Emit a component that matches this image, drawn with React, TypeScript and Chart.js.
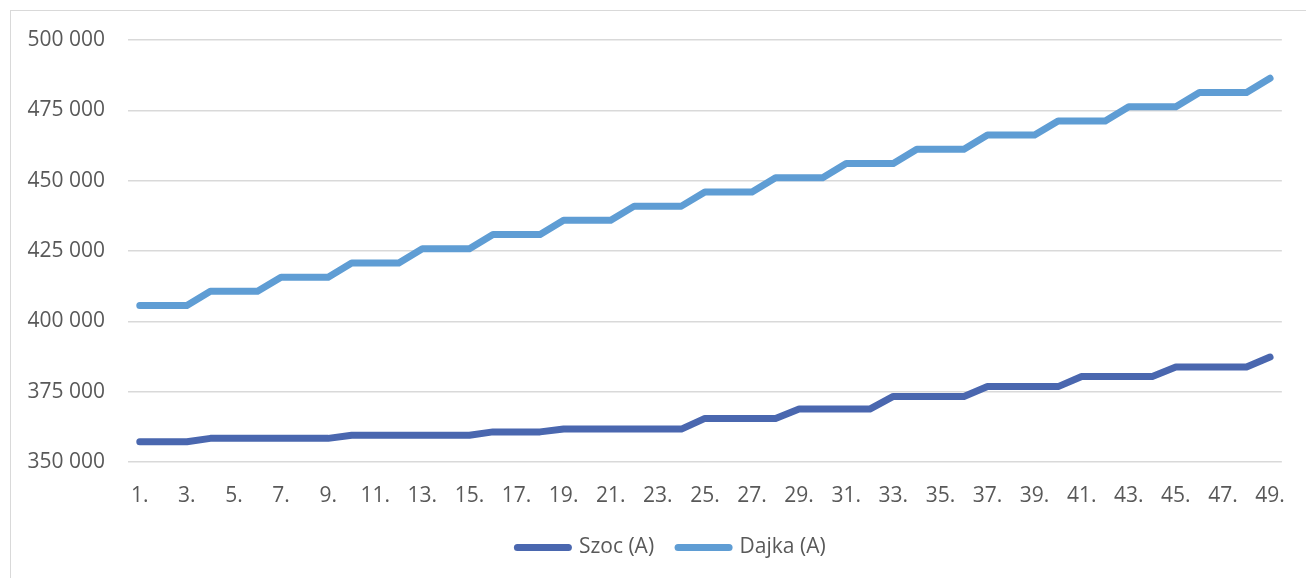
import React, { useEffect, useRef } from "react";
import { Chart, registerables } from "chart.js";

Chart.register(...registerables);

const categories: string[] = [
  "1.", "2.", "3.", "4.", "5.", "6.", "7.", "8.", "9.", "10.",
  "11.", "12.", "13.", "14.", "15.", "16.", "17.", "18.", "19.", "20.",
  "21.", "22.", "23.", "24.", "25.", "26.", "27.", "28.", "29.", "30.",
  "31.", "32.", "33.", "34.", "35.", "36.", "37.", "38.", "39.", "40.",
  "41.", "42.", "43.", "44.", "45.", "46.", "47.", "48.", "49.",
];

const szocValues: number[] = [
  357200, 357200, 357200,
  358400, 358400, 358400, 358400, 358400, 358400,
  359500, 359500, 359500, 359500, 359500, 359500,
  360700, 360700, 360700,
  361700, 361700, 361700, 361700, 361700, 361700,
  365500, 365500, 365500, 365500,
  368800, 368800, 368800, 368800,
  373300, 373300, 373300, 373300,
  376800, 376800, 376800, 376800,
  380400, 380400, 380400, 380400,
  383800, 383800, 383800, 383800,
  387300,
];

const dajkaValues: number[] = [
  405600, 405600, 405600,
  410650, 410650, 410650,
  415700, 415700, 415700,
  420750, 420750, 420750,
  425800, 425800, 425800,
  430850, 430850, 430850,
  435900, 435900, 435900,
  440950, 440950, 440950,
  446000, 446000, 446000,
  451050, 451050, 451050,
  456100, 456100, 456100,
  461150, 461150, 461150,
  466200, 466200, 466200,
  471250, 471250, 471250,
  476300, 476300, 476300,
  481350, 481350, 481350,
  486400,
];

const seriesNames: string[] = ["Szoc (A)", "Dajka (A)"];
const seriesColors: string[] = ["#4A67AF", "#5F9DD4"];

const yMin = 350000;
const yMax = 500000;
const yStep = 25000;

const FONT = "'Open Sans', 'DejaVu Sans', sans-serif";
const FONT_SIZE = 21;
const TEXT_COLOR = "#595959";
const GRID_COLOR = "#d9d9d9";

function formatThousands(v: number): string {
  return String(Math.round(v)).replace(/\B(?=(\d{3})+(?!\d))/g, " ");
}

const legendShift = {
  id: "legendShift",
  afterLayout(chart: any) {
    const lg = chart.legend;
    if (lg) {
      lg.left += 27;
      lg.right += 27;
    }
  },
};

export default function App() {
  const canvasRef = useRef<HTMLCanvasElement | null>(null);

  useEffect(() => {
    const canvas = canvasRef.current;
    if (!canvas) return;
    const chart = new Chart(canvas, {
      type: "line",
      data: {
        labels: categories,
        datasets: [
          {
            label: seriesNames[0],
            data: szocValues,
            borderColor: seriesColors[0],
            backgroundColor: seriesColors[0],
            borderWidth: 7,
            borderCapStyle: "round",
            borderJoinStyle: "round",
            pointRadius: 0,
            tension: 0,
            fill: false,
          },
          {
            label: seriesNames[1],
            data: dajkaValues,
            borderColor: seriesColors[1],
            backgroundColor: seriesColors[1],
            borderWidth: 7,
            borderCapStyle: "round",
            borderJoinStyle: "round",
            pointRadius: 0,
            tension: 0,
            fill: false,
          },
        ],
      },
      plugins: [legendShift],
      options: {
        responsive: false,
        animation: false,
        devicePixelRatio: 1,
        layout: {
          padding: { left: 0, right: 17, top: 40, bottom: 10 },
        },
        plugins: {
          tooltip: { enabled: false },
          legend: {
            position: "bottom",
            labels: {
              usePointStyle: true,
              pointStyle: "line",
              pointStyleWidth: 51,
              padding: 24,
              color: TEXT_COLOR,
              font: { family: FONT, size: FONT_SIZE },
              generateLabels: (c: any) =>
                c.data.datasets.map((ds: any, i: number) => ({
                  text: ds.label,
                  datasetIndex: i,
                  fillStyle: ds.borderColor,
                  strokeStyle: ds.borderColor,
                  lineWidth: 7,
                  lineCap: "round",
                  pointStyle: "line",
                  fontColor: TEXT_COLOR,
                  hidden: false,
                })),
            },
          },
        },
        scales: {
          x: {
            type: "category",
            offset: true,
            grid: { display: false, drawTicks: false },
            border: { display: false },
            ticks: {
              autoSkip: false,
              maxRotation: 0,
              minRotation: 0,
              padding: 21,
              color: TEXT_COLOR,
              font: { family: FONT, size: FONT_SIZE },
              callback: (_v: any, i: number) => (i % 2 === 0 ? categories[i] : ""),
            },
            afterFit: (scale: any) => {
              scale.height = 51;
            },
          },
          y: {
            min: yMin,
            max: yMax,
            grid: { color: GRID_COLOR, lineWidth: 1.5, drawTicks: false },
            border: { display: false },
            ticks: {
              stepSize: yStep,
              padding: 23,
              color: TEXT_COLOR,
              font: { family: FONT, size: FONT_SIZE },
              callback: (v: any) => formatThousands(Number(v)),
            },
            afterFit: (scale: any) => {
              scale.width = 128;
            },
          },
        },
      },
    });
    return () => {
      chart.destroy();
    };
  }, []);

  return (
    <div
      style={{
        position: "fixed",
        left: 0,
        top: 0,
        width: 1306,
        height: 578,
        background: "#ffffff",
        overflow: "hidden",
      }}
    >
      <div
        style={{
          position: "absolute",
          left: 10,
          top: 10,
          right: 0,
          bottom: 0,
          borderLeft: "1.5px solid #d9d9d9",
          borderTop: "1.5px solid #d9d9d9",
        }}
      />
      <canvas
        ref={canvasRef}
        width={1306}
        height={578}
        style={{ position: "absolute", left: 0, top: 0, width: 1306, height: 578 }}
      />
    </div>
  );
}
